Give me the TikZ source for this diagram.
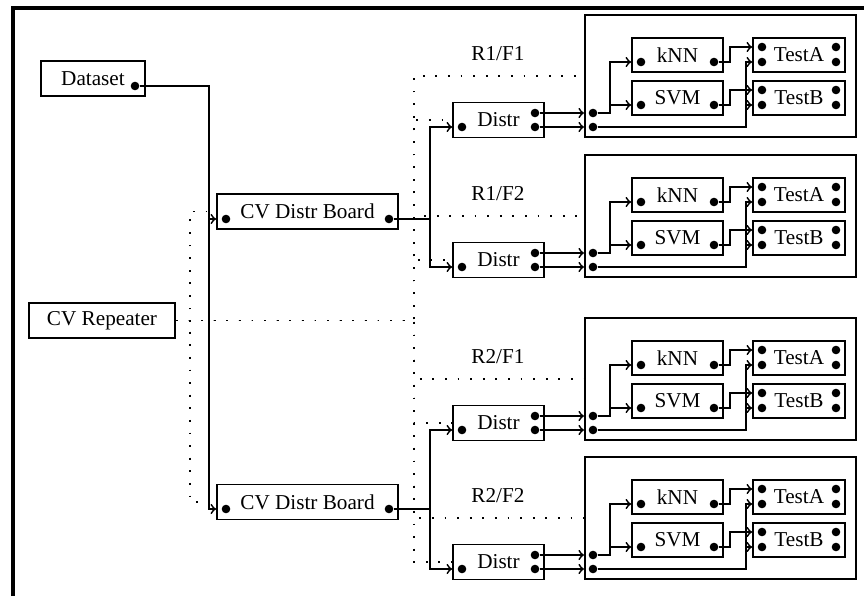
\documentclass[tikz,border=0pt]{standalone}
\usepackage{fontspec}
\setmainfont{Liberation Serif}

\tikzset{
  box/.style={draw, line width=0.9pt, minimum height=17.5pt, inner sep=0pt, font=\fontsize{10.6}{12}\selectfont},
  modbox/.style={draw, line width=1pt, minimum width=135.5pt, minimum height=61pt},
  pin/.style={circle, fill, inner sep=0pt, minimum size=4.3pt},
  wire/.style={line width=0.9pt},
  ctrl/.style={line width=0.9pt, dash pattern=on 0.9pt off 5.4pt},
  tag/.style={font=\fontsize{10.6}{12}\selectfont}
}

\begin{document}
\begin{tikzpicture}[x=0.5pt,y=-0.5pt]
\useasboundingbox (0,0) rectangle (864,596);
\draw[line width=2.2pt] (13,596) |- (864,8);
\node[box,minimum width=52pt] (data) at (93,78.5) {Dataset};
\node[box,minimum width=73pt] (rep) at (102,320.5) {CV Repeater};
\node[box,minimum width=90.5pt] (cvd1) at (307.5,211.5) {CV Distr Board};
\node[box,minimum width=90.5pt] (cvd2) at (307.5,502) {CV Distr Board};
\node[pin] (data-o) at (135,86) {};
\node[pin] (cvd1-i) at (226,219) {};
\node[pin] (cvd1-o) at (389,219) {};
\node[pin] (cvd2-i) at (226,509) {};
\node[pin] (cvd2-o) at (389,509) {};
% one fold per block
\foreach \m/\dy/\r/\f in {1/0/1/1,2/140/1/2,3/303/2/1,4/442/2/2} {
  \node[box,minimum width=45.5pt] (dis\m) at (498.5,120+\dy) {Distr};
  \node[modbox] (mod\m) at (720.5,76+\dy) {};
  \node[box,minimum width=45.5pt,minimum height=17pt] (knn\m) at (677.5,55+\dy) {kNN};
  \node[box,minimum width=45.5pt,minimum height=17pt] (svm\m) at (677.5,98+\dy) {SVM};
  \node[box,minimum width=46pt,minimum height=17pt] (ta\m) at (799,55+\dy) {TestA};
  \node[box,minimum width=46pt,minimum height=17pt] (tb\m) at (799,98+\dy) {TestB};
  \node[tag] (lab\m) at (498,54+\dy) {R\r/F\f};
  \node[pin] (dis\m-i) at (462,127+\dy) {};
  \node[pin] (dis\m-a) at (535,113+\dy) {};
  \node[pin] (dis\m-b) at (535,127+\dy) {};
  \node[pin] (mod\m-a) at (593,113+\dy) {};
  \node[pin] (mod\m-b) at (593,127+\dy) {};
  \node[pin] (knn\m-i) at (641,62+\dy) {};
  \node[pin] (knn\m-o) at (714,62+\dy) {};
  \node[pin] (svm\m-i) at (641,105+\dy) {};
  \node[pin] (svm\m-o) at (714,105+\dy) {};
  \foreach \t/\yy in {ta/47,tb/90} {
    \node[pin] (\t\m-1) at (762,\yy+\dy) {};
    \node[pin] (\t\m-2) at (762,\yy+15+\dy) {};
    \node[pin] (\t\m-3) at (836,\yy+\dy) {};
    \node[pin] (\t\m-4) at (836,\yy+15+\dy) {};
  }
  \draw[wire,->] (dis\m-a) -- (mod\m.west |- dis\m-a);
  \draw[wire,->] (dis\m-b) -- (mod\m.west |- dis\m-b);
  \draw[wire,->] (mod\m-a) -- ++(17,0) |- (knn\m.west |- knn\m-i);
  \draw[wire,->] (mod\m-a) -- ++(17,0) |- (svm\m.west |- svm\m-i);
  \draw[wire,->] (knn\m-o) -- ++(16,0) |- (ta\m.west |- ta\m-1);
  \draw[wire,->] (svm\m-o) -- ++(16,0) |- (tb\m.west |- tb\m-1);
  \draw[wire,->] (mod\m-b) -- ++(153,0) |- (ta\m.west |- ta\m-2);
  \draw[wire,->] (mod\m-b) -- ++(153,0) |- (tb\m.west |- tb\m-2);
  \draw[ctrl] (rep.east) -- ++(238,0) |- (dis\m.west);
  \draw[ctrl] (rep.east) -- ++(238,0) |- (mod\m.west);
}
\draw[ctrl] (rep.east) -- ++(14,0) |- (cvd1.west);
\draw[ctrl] (rep.east) -- ++(14,0) |- (cvd2.west);
\draw[wire,->] (data-o) -- ++(74,0) |- (cvd1.west |- cvd1-i);
\draw[wire,->] (data-o) -- ++(74,0) |- (cvd2.west |- cvd2-i);
\draw[wire] (cvd1-o) -- ++(41,0) coordinate (fork1);
\draw[wire,->] (fork1) |- (dis1.west |- dis1-i);
\draw[wire,->] (fork1) |- (dis2.west |- dis2-i);
\draw[wire] (cvd2-o) -- ++(41,0) coordinate (fork2);
\draw[wire,->] (fork2) |- (dis3.west |- dis3-i);
\draw[wire,->] (fork2) |- (dis4.west |- dis4-i);
\end{tikzpicture}
\end{document}
